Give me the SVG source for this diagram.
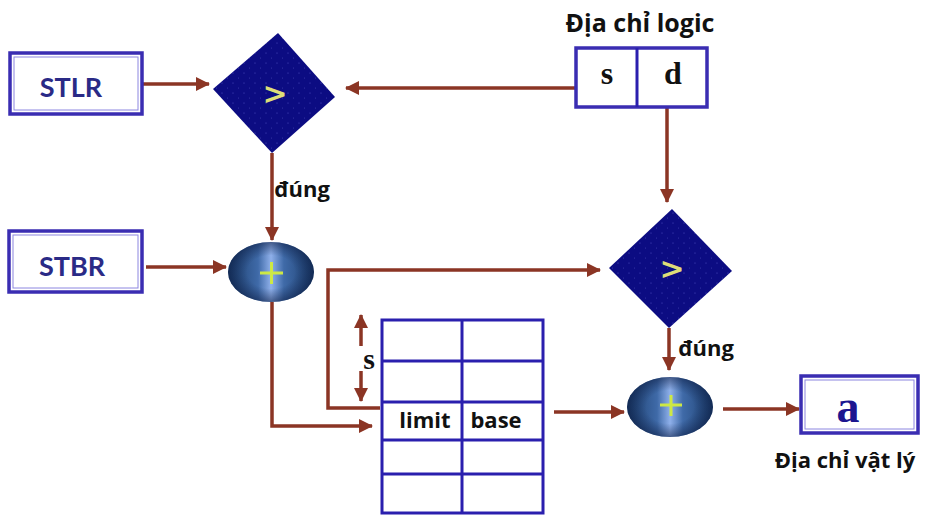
<svg xmlns="http://www.w3.org/2000/svg" width="930" height="517" viewBox="0 0 930 517">
  <defs>
    <marker id="arrow" viewBox="0 0 14 14" refX="13" refY="7" markerWidth="14" markerHeight="14" markerUnits="userSpaceOnUse" orient="auto">
      <path d="M0,0 L14,7 L0,14 Z" fill="#8b3524"/>
    </marker>
    <pattern id="dots" width="11" height="10" patternUnits="userSpaceOnUse">
      <rect width="11" height="10" fill="#0c0c82"/>
      <circle cx="2" cy="3" r="0.6" fill="#4c4cc0"/>
      <circle cx="7.5" cy="8" r="0.5" fill="#3e3eb0"/>
    </pattern>
    <linearGradient id="discShine" x1="0" y1="0" x2="1" y2="0">
      <stop offset="0" stop-color="#1d3f6e"/>
      <stop offset="0.35" stop-color="#3f6aa8"/>
      <stop offset="0.5" stop-color="#8fb0ea"/>
      <stop offset="0.65" stop-color="#3f6aa8"/>
      <stop offset="1" stop-color="#1d3f6e"/>
    </linearGradient>
    <radialGradient id="discEdge" cx="0.5" cy="0.5" r="0.5">
      <stop offset="0.55" stop-color="#0a1a40" stop-opacity="0"/>
      <stop offset="1" stop-color="#0a1a40" stop-opacity="0.55"/>
    </radialGradient>
    <style>
      .box { fill: #ffffff; stroke: #3a2db2; stroke-width: 3.5; }
      .inner { fill: none; stroke: #8c86e0; stroke-width: 1; }
      .grid { fill: none; stroke: #2a1fae; stroke-width: 3; }
      .wire { fill: none; stroke: #8b3524; stroke-width: 3.5; }
      .tag { font-family: "Lato", "Liberation Sans", sans-serif; font-weight: bold; fill: #2a2a86; font-size: 27px; text-anchor: middle; }
      .lbl { font-family: "Open Sans", "Liberation Sans", sans-serif; font-weight: bold; fill: #111111; text-anchor: middle; }
      .var { font-family: "Liberation Serif", serif; font-weight: bold; text-anchor: middle; }
      .cmp { fill: url(#dots); }
      .gt { font-family: "DejaVu Sans", "Liberation Sans", sans-serif; font-weight: bold; font-size: 30px; fill: #dede78; text-anchor: middle; }
      .plus { stroke: #cde844; stroke-width: 3; fill: none; }
    </style>
  </defs>

  <!-- connectors -->
  <g id="connectors">
    <line class="wire" x1="143" y1="84" x2="209" y2="84" marker-end="url(#arrow)"/>
    <line class="wire" x1="575" y1="88" x2="346" y2="88" marker-end="url(#arrow)"/>
    <line class="wire" x1="272" y1="153" x2="272" y2="240" marker-end="url(#arrow)"/>
    <line class="wire" x1="146" y1="267" x2="226" y2="267" marker-end="url(#arrow)"/>
    <line class="wire" x1="667" y1="108" x2="667" y2="202" marker-end="url(#arrow)"/>
    <polyline class="wire" points="272,302 272,426 372,426" marker-end="url(#arrow)"/>
    <polyline class="wire" points="380,408 328,408 328,270 600,270" marker-end="url(#arrow)"/>
    <line class="wire" x1="669" y1="328" x2="669" y2="370" marker-end="url(#arrow)"/>
    <line class="wire" x1="554" y1="412" x2="624" y2="412" marker-end="url(#arrow)"/>
    <line class="wire" x1="723" y1="409" x2="799" y2="409" marker-end="url(#arrow)"/>
    <!-- segment size marker -->
    <line class="wire" x1="361" y1="346" x2="361" y2="315" marker-end="url(#arrow)"/>
    <line class="wire" x1="361" y1="371" x2="361" y2="401" marker-end="url(#arrow)"/>
    <text class="lbl" x="302" y="197" font-size="22">đúng</text>
    <text class="lbl" x="706" y="356" font-size="22">đúng</text>
    <text class="var" x="369" y="369" font-size="30" fill="#111">s</text>
  </g>

  <g id="stlr">
    <rect class="box" x="10" y="53" width="132" height="61"/>
    <rect class="inner" x="14" y="57" width="124" height="53"/>
    <text class="tag" x="71" y="97">STLR</text>
  </g>

  <g id="stbr">
    <rect class="box" x="9" y="231" width="133" height="61"/>
    <rect class="inner" x="13" y="235" width="125" height="53"/>
    <text class="tag" x="72" y="276">STBR</text>
  </g>

  <g id="compare-segment">
    <polygon class="cmp" points="278,33 335,97 272,153 213,89"/>
    <text class="gt" x="275" y="104">&gt;</text>
  </g>

  <g id="logical-address">
    <text class="lbl" x="640" y="32" font-size="25">Địa chỉ logic</text>
    <rect class="box" x="576" y="48" width="131" height="59"/>
    <line class="grid" x1="637" y1="48" x2="637" y2="107"/>
    <text class="var" x="607" y="84" font-size="32" fill="#111">s</text>
    <text class="var" x="673" y="84" font-size="32" fill="#111">d</text>
  </g>

  <g id="add-base">
    <ellipse cx="271" cy="272" rx="43" ry="30" fill="url(#discShine)"/>
    <ellipse cx="271" cy="272" rx="43" ry="30" fill="url(#discEdge)"/>
    <path class="plus" d="M260,273 H283 M271.5,262 V284"/>
  </g>

  <g id="compare-offset">
    <polygon class="cmp" points="672,209 732,271 669,328 609,268"/>
    <text class="gt" x="672" y="279">&gt;</text>
  </g>

  <g id="segment-table">
    <rect class="grid" x="382" y="320" width="161" height="193"/>
    <line class="grid" x1="462" y1="320" x2="462" y2="513"/>
    <line class="grid" x1="382" y1="361" x2="543" y2="361"/>
    <line class="grid" x1="382" y1="402" x2="543" y2="402"/>
    <line class="grid" x1="382" y1="440" x2="543" y2="440"/>
    <line class="grid" x1="382" y1="474" x2="543" y2="474"/>
    <text class="lbl" x="425" y="428" font-size="22">limit</text>
    <text class="lbl" x="496" y="428" font-size="22">base</text>
  </g>

  <g id="add-offset">
    <ellipse cx="670" cy="407" rx="43" ry="30" fill="url(#discShine)"/>
    <ellipse cx="670" cy="407" rx="43" ry="30" fill="url(#discEdge)"/>
    <path class="plus" d="M660,405 H682 M671,395 V416"/>
  </g>

  <g id="physical-address">
    <rect class="box" x="801" y="376" width="117" height="57"/>
    <rect class="inner" x="805" y="380" width="109" height="49"/>
    <text class="var" x="848" y="422" font-size="46" fill="#1c1690">a</text>
    <text class="lbl" x="845" y="468" font-size="22">Địa chỉ vật lý</text>
  </g>
</svg>
